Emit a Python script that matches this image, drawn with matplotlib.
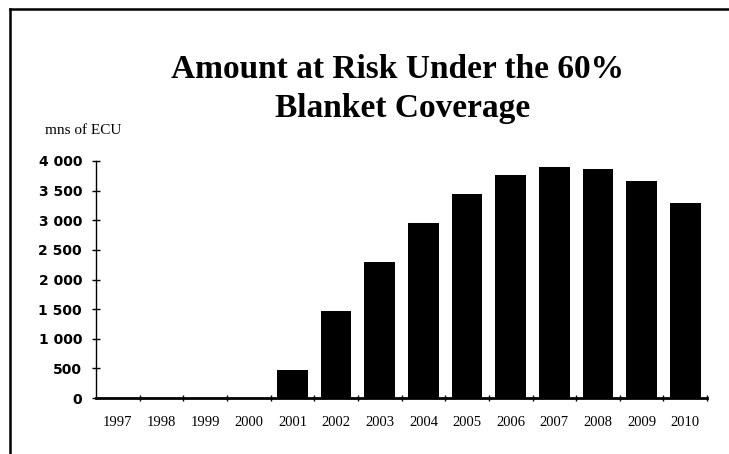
import matplotlib
matplotlib.use("Agg")
import matplotlib.pyplot as plt
from matplotlib.lines import Line2D

# importe en riesgo, millones de ECU
anios = ["1997", "1998", "1999", "2000", "2001", "2002", "2003",
         "2004", "2005", "2006", "2007", "2008", "2009", "2010"]
riesgo = [0, 0, 0, 0, 470, 1470, 2290, 2950, 3450, 3760, 3900, 3860, 3660, 3290]
yticks = [0, 500, 1000, 1500, 2000, 2500, 3000, 3500, 4000]
ytick_labels = ["0", "500", "1 000", "1 500", "2 000", "2 500", "3 000", "3 500", "4 000"]

fig = plt.figure(figsize=(7.29, 4.54), dpi=100)
ax = fig.add_axes([0.1317, 0.1233, 0.8383, 0.5221])

x = list(range(len(anios)))
ax.bar(x, riesgo, width=0.7, color="black")

ax.set_xlim(-0.5, len(anios) - 0.5)
ax.set_ylim(0, 4000)

ax.set_yticks(yticks)
ax.set_yticklabels(ytick_labels, family="DejaVu Sans", fontweight="bold",
                   fontsize=10)
ax.tick_params(axis="y", direction="inout", length=6, width=1, pad=7)

# etiquetas centradas en cada año, marcas entre categorias
ax.set_xticks(x)
ax.set_xticklabels(anios, family="Liberation Serif", fontsize=10.5)
ax.tick_params(axis="x", which="major", length=0, pad=13)
ax.set_xticks([i + 0.5 for i in x], minor=True)
ax.tick_params(axis="x", which="minor", direction="inout", length=5, width=1)

for s in ["top", "right"]:
    ax.spines[s].set_visible(False)
ax.spines["bottom"].set_linewidth(2)
ax.spines["left"].set_linewidth(1)

titulo = dict(ha="center", va="baseline", family="Liberation Serif",
              fontweight="bold", fontsize=24)
fig.text(0.545, 0.828, "Amount at Risk Under the 60%", **titulo)
fig.text(0.552, 0.742, "Blanket Coverage", **titulo)
fig.text(0.062, 0.712, "mns of ECU", family="Liberation Serif",
         fontsize=11, ha="left", va="center")

# borde superior e izquierdo del recuadro
fig.add_artist(Line2D([0.014, 1.0], [0.98, 0.98], color="black", lw=1.8,
                      transform=fig.transFigure))
fig.add_artist(Line2D([0.014, 0.014], [0.0, 0.98], color="black", lw=1.8,
                      transform=fig.transFigure))

fig.savefig("out.png", dpi=100)
